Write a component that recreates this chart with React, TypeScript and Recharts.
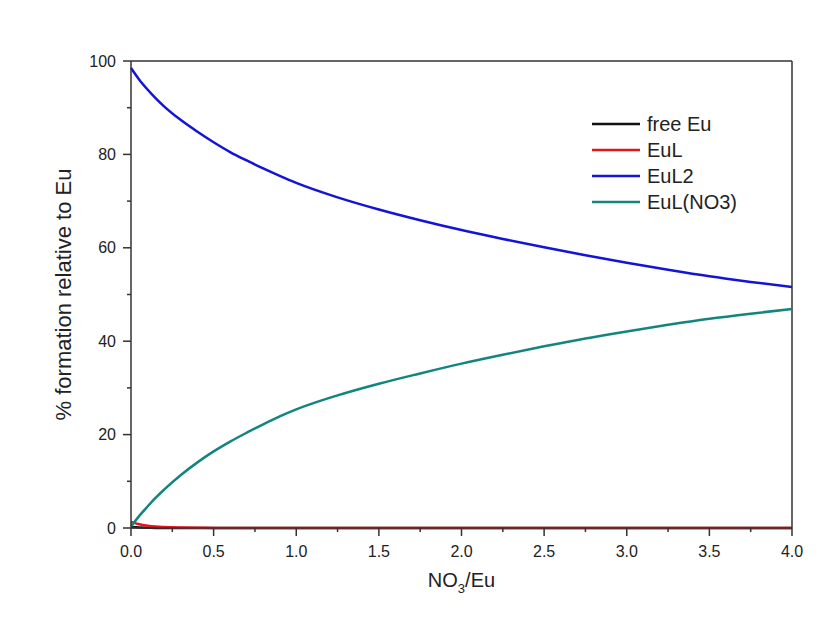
import React from "react";
import { LineChart, Line, XAxis, YAxis, ReferenceLine } from "recharts";

// NO3/Eu ratio
const ratio = [0, 0.05, 0.1, 0.15, 0.2, 0.3, 0.4, 0.5, 0.6, 0.7, 0.8, 0.9, 1.0, 1.25, 1.5, 1.75, 2.0, 2.25, 2.5, 2.75, 3.0, 3.25, 3.5, 3.75, 4.0];

// % formation relative to Eu
const freeEu = [0.2, 0.1, 0.05, 0.02, 0, 0, 0, 0, 0, 0, 0, 0, 0, 0, 0, 0, 0, 0, 0, 0, 0, 0, 0, 0, 0];
const euL = [1.3, 0.8, 0.5, 0.3, 0.2, 0.1, 0.05, 0.02, 0, 0, 0, 0, 0, 0, 0, 0, 0, 0, 0, 0, 0, 0, 0, 0, 0];
const euL2 = [98.5, 96.0, 93.9, 92.0, 90.3, 87.4, 84.9, 82.6, 80.5, 78.7, 77.0, 75.4, 73.9, 70.8, 68.2, 65.9, 63.8, 61.9, 60.1, 58.4, 56.8, 55.3, 53.9, 52.7, 51.6];
const euLNO3 = [0.3, 2.6, 4.6, 6.5, 8.2, 11.3, 14.0, 16.4, 18.5, 20.4, 22.2, 23.9, 25.4, 28.4, 30.9, 33.1, 35.2, 37.1, 38.9, 40.6, 42.1, 43.5, 44.8, 45.9, 46.9];

const xTicks = [0, 0.25, 0.5, 0.75, 1, 1.25, 1.5, 1.75, 2, 2.25, 2.5, 2.75, 3, 3.25, 3.5, 3.75, 4];
const yTicks = [0, 10, 20, 30, 40, 50, 60, 70, 80, 90, 100];

const SERIES = [
  { key: "freeEu", name: "free Eu", color: "#111111" },
  { key: "euL", name: "EuL", color: "#e3151c" },
  { key: "euL2", name: "EuL2", color: "#1414d6" },
  { key: "euLNO3", name: "EuL(NO3)", color: "#13857f" },
];

const data = ratio.map((r, i) => ({
  r,
  freeEu: freeEu[i],
  euL: euL[i],
  euL2: euL2[i],
  euLNO3: euLNO3[i],
}));

const AXIS = "#333333";
const FONT = "'Liberation Sans', Arial, sans-serif";

function XTick({ x, y, payload }: any) {
  const v = payload.value;
  const major = Math.abs(v * 2 - Math.round(v * 2)) < 1e-6;
  return (
    <g>
      <line x1={x} x2={x} y1={y} y2={y + (major ? 8 : 4)} stroke={AXIS} strokeWidth={1.5} />
      {major && (
        <text x={x} y={y + 29} textAnchor="middle" fontSize={16} fill="#222" fontFamily={FONT}>
          {v.toFixed(1)}
        </text>
      )}
    </g>
  );
}

function YTick({ x, y, payload }: any) {
  const v = payload.value;
  const major = v % 20 === 0;
  return (
    <g>
      <line x1={x - (major ? 8 : 4)} x2={x} y1={y} y2={y} stroke={AXIS} strokeWidth={1.5} />
      {major && (
        <text x={x - 15} y={y + 5.5} textAnchor="end" fontSize={16} fill="#222" fontFamily={FONT}>
          {v}
        </text>
      )}
    </g>
  );
}

function LegendBox() {
  return (
    <div style={{ position: "absolute", left: 584, top: 103, fontFamily: FONT, fontSize: 20, color: "#222" }}>
      {SERIES.map(s => (
        <div key={s.key} style={{ display: "flex", alignItems: "center", height: 26 }}>
          <svg width={55} height={26}>
            <line x1={0} x2={48} y1={13} y2={13} stroke={s.color} strokeWidth={2.5} />
          </svg>
          <span>{s.name}</span>
        </div>
      ))}
    </div>
  );
}

export default function App() {
  return (
    <div style={{ position: "relative", width: 824, height: 621, background: "#fff" }}>
      <LineChart
        width={824}
        height={621}
        data={data}
        margin={{ top: 53, right: 40, left: 63, bottom: 71 }}
      >
        <XAxis
          dataKey="r"
          type="number"
          domain={[0, 4]}
          ticks={xTicks}
          interval={0}
          height={30}
          tickSize={0}
          tickMargin={0}
          tickLine={false}
          axisLine={{ stroke: AXIS, strokeWidth: 1.5 }}
          tick={<XTick />}
          label={{
            content: ({ viewBox }: any) => (
              <text x={viewBox.x + viewBox.width / 2} y={viewBox.y + 59} textAnchor="middle" fontSize={20} fill="#222" fontFamily={FONT}>
                NO<tspan fontSize={13} dy={6}>3</tspan><tspan dy={-6}>/Eu</tspan>
              </text>
            ),
          }}
        />
        <YAxis
          type="number"
          domain={[0, 100]}
          ticks={yTicks}
          interval={0}
          width={60}
          tickSize={0}
          tickMargin={0}
          tickLine={false}
          axisLine={{ stroke: AXIS, strokeWidth: 1.5 }}
          tick={<YTick />}
          label={{
            content: ({ viewBox }: any) => {
              const cx = viewBox.x - 8;
              const cy = viewBox.y + viewBox.height / 2;
              return (
                <text x={cx} y={cy} transform={`rotate(-90 ${cx} ${cy})`} textAnchor="middle" dominantBaseline="central" fontSize={22} fill="#222" fontFamily={FONT}>
                  % formation relative to Eu
                </text>
              );
            },
          }}
        />
        {/* frame: top and right edges */}
        <ReferenceLine y={100} stroke={AXIS} strokeWidth={1.5} />
        <ReferenceLine x={4} stroke={AXIS} strokeWidth={1.5} />
        {SERIES.map(s => (
          <Line
            key={s.key}
            type="monotone"
            dataKey={s.key}
            name={s.name}
            stroke={s.color}
            strokeWidth={2.5}
            dot={false}
            isAnimationActive={false}
          />
        ))}
      </LineChart>
      <LegendBox />
    </div>
  );
}
